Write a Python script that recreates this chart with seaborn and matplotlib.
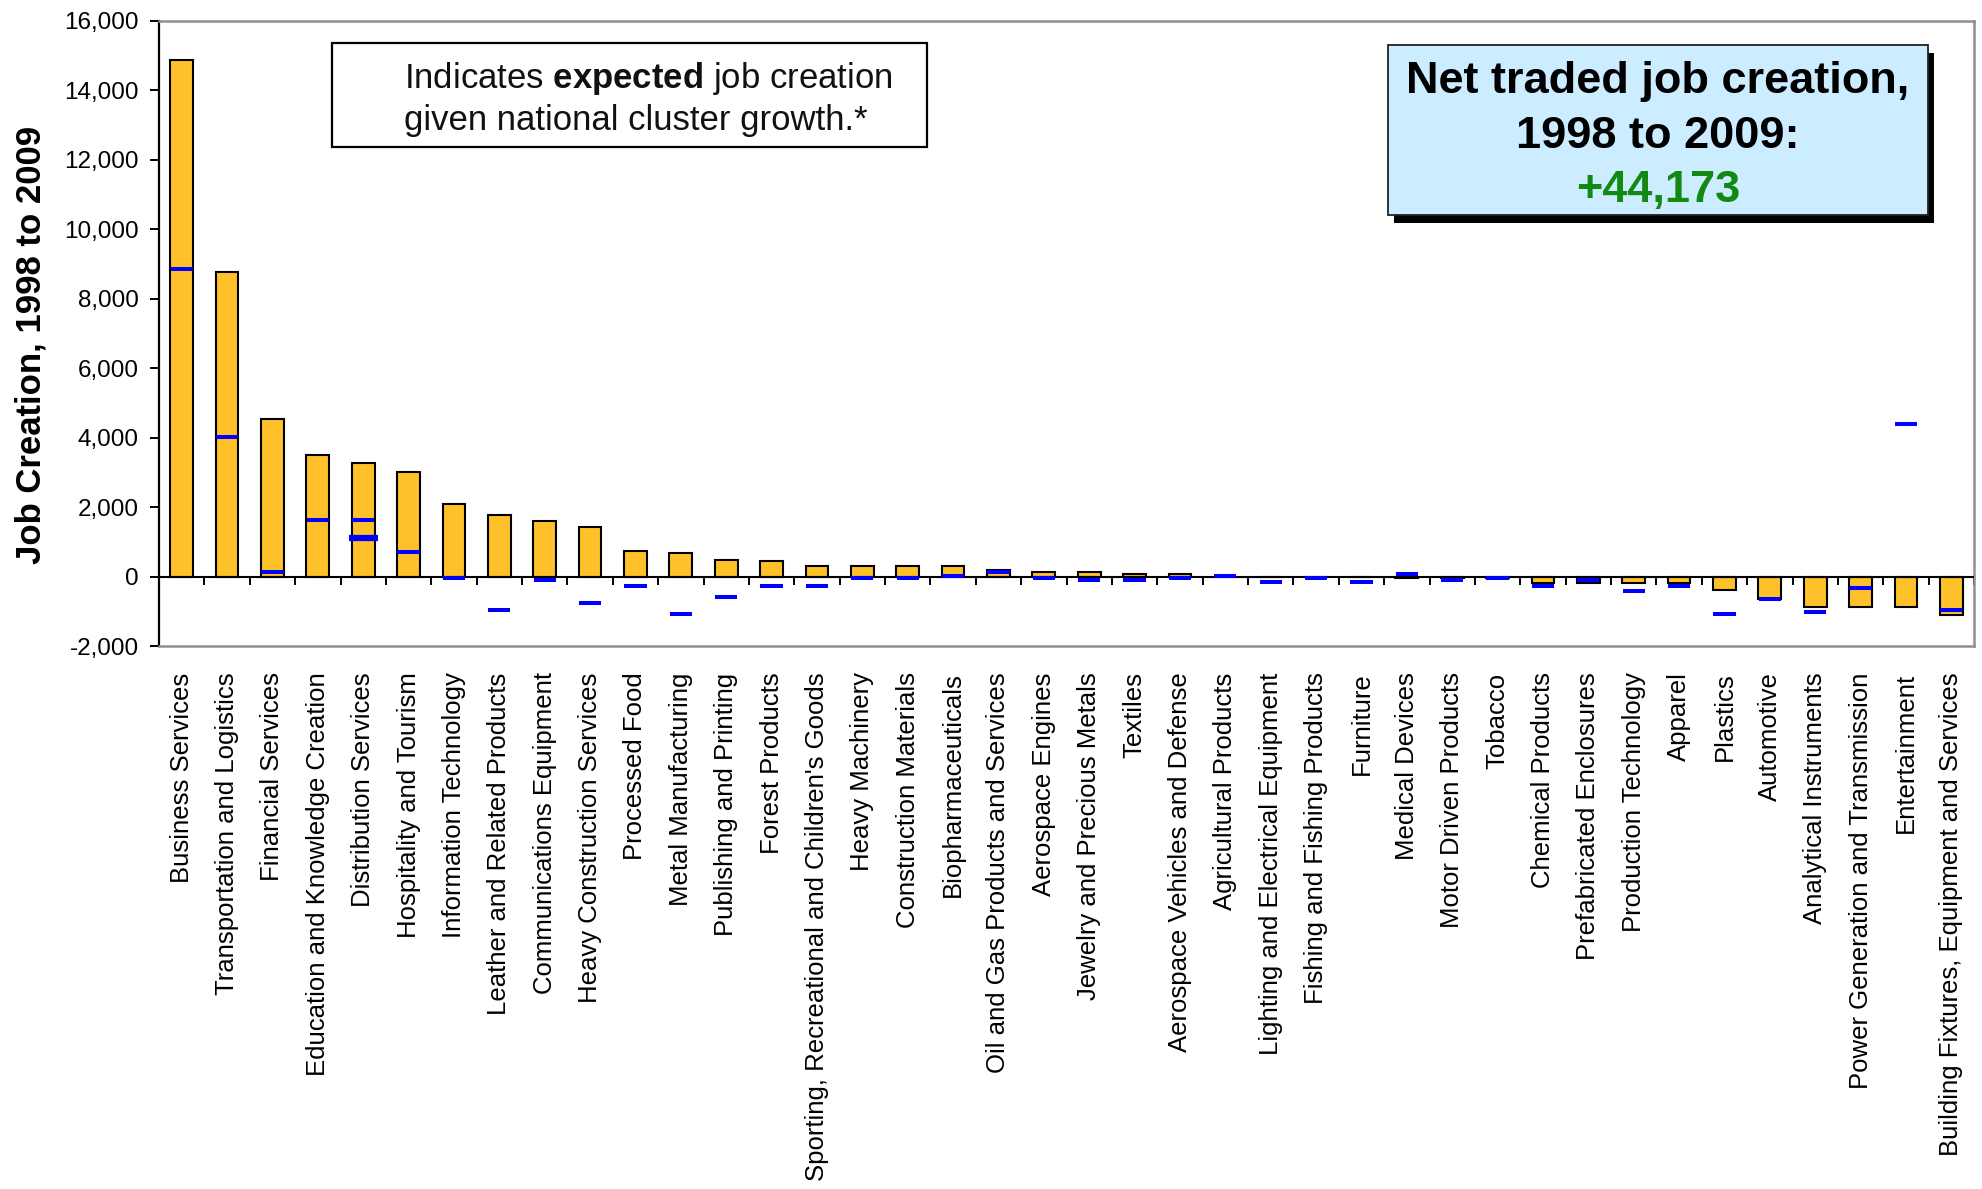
import numpy as np
import pandas as pd
import matplotlib
matplotlib.use("Agg")
import matplotlib.pyplot as plt
import seaborn as sns
from matplotlib.patches import Rectangle
from matplotlib.ticker import FuncFormatter

# ---------------- data ----------------
categories = [
    "Business Services", "Transportation and Logistics", "Financial Services",
    "Education and Knowledge Creation", "Distribution Services", "Hospitality and Tourism",
    "Information Technology", "Leather and Related Products", "Communications Equipment",
    "Heavy Construction Services", "Processed Food", "Metal Manufacturing",
    "Publishing and Printing", "Forest Products",
    "Sporting, Recreational and Children's Goods", "Heavy Machinery",
    "Construction Materials", "Biopharmaceuticals", "Oil and Gas Products and Services",
    "Aerospace Engines", "Jewelry and Precious Metals", "Textiles",
    "Aerospace Vehicles and Defense", "Agricultural Products",
    "Lighting and Electrical Equipment", "Fishing and Fishing Products", "Furniture",
    "Medical Devices", "Motor Driven Products", "Tobacco", "Chemical Products",
    "Prefabricated Enclosures", "Production Technology", "Apparel", "Plastics",
    "Automotive", "Analytical Instruments", "Power Generation and Transmission",
    "Entertainment", "Building Fixtures, Equipment and Services",
]
actual_jobs = [
    14880, 8760, 4530, 3510, 3258, 3007, 2092, 1773, 1610, 1420,
    750, 680, 485, 436, 307, 307, 307, 307, 182, 125,
    125, 65, 60, 0, 0, 0, 0, -50, -30, -30,
    -173, -192, -192, -192, -384, -633, -873, -873, -873, -1112,
]
expected_jobs = [
    8860, 4019, 145, 1629, 1629, 704, -39, -964, -106, -775,
    -265, -1070, -580, -265, -278, -40, -40, 30, 144, -40,
    -96, -96, -40, 30, -150, -40, -150, 86, -96, -35,
    -278, -105, -403, -278, -1074, -640, -1007, -336, 4390, -950,
]
extra_marker_category = "Distribution Services"
extra_marker_value = 1108
y_ticks = [-2000, 0, 2000, 4000, 6000, 8000, 10000, 12000, 14000, 16000]
net_title = "Net traded job creation,\n1998 to 2009:"
net_total_label = "+44,173"

# ---------------- style ----------------
sns.set_theme(style="white")
plt.rcParams["font.family"] = ["Liberation Sans", "DejaVu Sans"]
plt.rcParams["mathtext.fontset"] = "custom"
plt.rcParams["mathtext.rm"] = "Liberation Sans"
plt.rcParams["mathtext.bf"] = "Liberation Sans:bold"

W, H = 1982, 1189
fig = plt.figure(figsize=(W / 100, H / 100), dpi=100)
fig.patch.set_facecolor("white")
ax = fig.add_axes([159 / W, 1 - 646 / H, (1974 - 159) / W, (646 - 21) / H])

df = pd.DataFrame({"cluster": categories, "jobs": actual_jobs, "expected": expected_jobs})

sns.barplot(data=df, x="cluster", y="jobs", color="#FFC12A", saturation=1,
            edgecolor="black", linewidth=1.5, width=0.5, errorbar=None, ax=ax, zorder=2)

xpos = np.arange(len(categories))
ax.hlines(df["expected"], xpos - 0.245, xpos + 0.245, colors="#0000FF",
          linewidth=2.9, zorder=4)
idx = categories.index(extra_marker_category)
ax.hlines([extra_marker_value], idx - 0.32, idx + 0.32, colors="#0000FF",
          linewidth=4.5, zorder=4)

ax.axhline(0, color="black", linewidth=1.5, zorder=3)

ax.set_xlim(-0.5, len(categories) - 0.5)
ax.set_ylim(-2000, 16000)
ax.set_yticks(y_ticks)
ax.yaxis.set_major_formatter(FuncFormatter(lambda v, p: f"{int(v):,}"))
ax.tick_params(axis="y", left=True, direction="out", length=6.5, width=1.4,
               color="black", labelsize=17.5, pad=8, labelcolor="black")
ax.tick_params(axis="x", bottom=False, length=0, labelsize=18.5, pad=19,
               labelrotation=90, labelcolor="black")
ax.set_xlabel("")
ax.set_ylabel("Job Creation, 1998 to 2009", fontsize=25, fontweight="bold", color="black")
ax.yaxis.set_label_coords(-0.0617, 0.482)

for s in ["top", "right", "bottom"]:
    ax.spines[s].set_color("#8f8f8f")
    ax.spines[s].set_linewidth(1.8)
ax.spines["left"].set_color("black")
ax.spines["left"].set_linewidth(1.6)

# category-boundary ticks along the zero line
sec = ax.secondary_xaxis(0, transform=ax.transData)
sec.set_xticks(np.arange(0.5, len(categories), 1))
sec.tick_params(axis="x", direction="out", length=6, width=1.4, color="black",
                labelbottom=False, labeltop=False)
for s in sec.spines.values():
    s.set_visible(False)

# ---------------- annotation boxes ----------------
fig.add_artist(Rectangle((332 / W, 1 - 147 / H), (927 - 332) / W, (147 - 43) / H,
                         transform=fig.transFigure, facecolor="white",
                         edgecolor="black", linewidth=1.6, zorder=5))
fig.text(404 / W, 1 - 88 / H, r"Indicates $\mathbf{expected}$ job creation",
         fontsize=25, ha="left", va="baseline", color="#111111", zorder=6)
fig.text(404 / W, 1 - 130 / H, "given national cluster growth.*",
         fontsize=25, ha="left", va="baseline", color="#111111", zorder=6)

fig.add_artist(Rectangle((1394 / W, 1 - 223 / H), (1934 - 1394) / W, 170 / H,
                         transform=fig.transFigure, facecolor="black",
                         edgecolor="black", linewidth=0, zorder=5))
fig.add_artist(Rectangle((1388 / W, 1 - 215 / H), (1928 - 1388) / W, 170 / H,
                         transform=fig.transFigure, facecolor="#CCECFF",
                         edgecolor="#222222", linewidth=1.3, zorder=6))
lines = net_title.split("\n")
fig.text(1658 / W, 1 - 93 / H, lines[0], fontsize=32.5, fontweight="bold",
         ha="center", va="baseline", color="black", zorder=7)
fig.text(1658 / W, 1 - 148 / H, lines[1], fontsize=32.5, fontweight="bold",
         ha="center", va="baseline", color="black", zorder=7)
fig.text(1658 / W, 1 - 202 / H, net_total_label, fontsize=32.5, fontweight="bold",
         ha="center", va="baseline", color="#128A12", zorder=7)

fig.savefig("out.png", dpi=100, facecolor="white")
